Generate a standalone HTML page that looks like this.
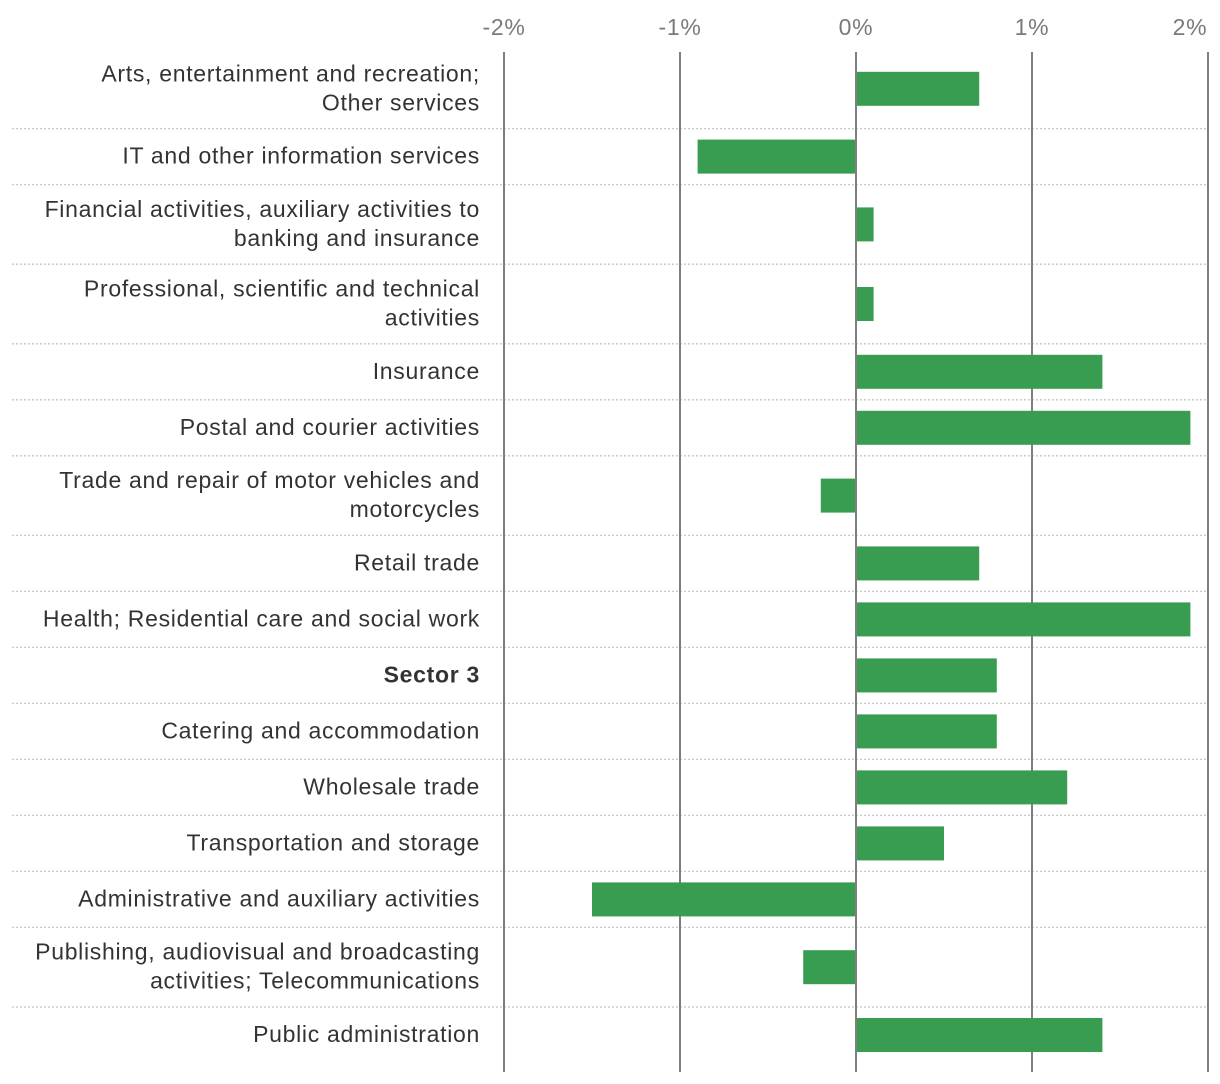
<!DOCTYPE html>
<html><head><meta charset="utf-8"><style>
html,body{margin:0;padding:0;background:#fff;width:1220px;height:1084px;overflow:hidden}
svg text{font-family:"Liberation Sans",sans-serif;letter-spacing:0.7px}
</style></head><body>
<svg id="chart" width="1220" height="1084" xmlns="http://www.w3.org/2000/svg"></svg>
<script>
const categories=[["Arts, entertainment and recreation;","Other services"],["IT and other information services"],["Financial activities, auxiliary activities to","banking and insurance"],["Professional, scientific and technical","activities"],["Insurance"],["Postal and courier activities"],["Trade and repair of motor vehicles and","motorcycles"],["Retail trade"],["Health; Residential care and social work"],["Sector 3"],["Catering and accommodation"],["Wholesale trade"],["Transportation and storage"],["Administrative and auxiliary activities"],["Publishing, audiovisual and broadcasting","activities; Telecommunications"],["Public administration"]];
const values=[0.7,-0.9,0.1,0.1,1.4,1.9,-0.2,0.7,1.9,0.8,0.8,1.2,0.5,-1.5,-0.3,1.4];
const ticks=[-2,-1,0,1,2];
const tickLabels=["-2%","-1%","0%","1%","2%"];
const NS="http://www.w3.org/2000/svg";
const svg=document.getElementById('chart');
const x=v=>856+v*176;
function el(t,a,p){const e=document.createElementNS(NS,t);for(const k in a)e.setAttribute(k,a[k]);(p||svg).appendChild(e);return e;}
let y=49;
const rows=[];
categories.forEach((c,i)=>{const h=c.length>1?79.6:56;rows.push({top:y,h});y+=h;});
// separators
rows.forEach((r,i)=>{if(i<rows.length-1){const s=el('line',{x1:12,x2:1208,y1:r.top+r.h,y2:r.top+r.h,stroke:'#c8c8c8','stroke-width':1.3,'stroke-dasharray':'2 2'});

}});
// gridlines + ticks
ticks.forEach((tk,i)=>{const g=el('line',{x1:x(tk),x2:x(tk),y1:52,y2:1072,stroke:'#7f7f7f','stroke-width':2});


const t=el('text',{x:Math.min(x(tk),1190),y:35,'text-anchor':'middle','font-size':23,fill:'#7a7a7a'});


t.textContent=tickLabels[i];});
// bars + labels
rows.forEach((r,i)=>{const v=values[i];const cy=r.top+r.h/2;
const b=el('rect',{x:Math.min(x(0)+1,x(v)),y:cy-17,width:Math.abs(x(v)-x(0))-1,height:34,fill:'#389d50'});


const t=el('text',{x:480,'text-anchor':'end','font-size':23,fill:'#333','font-weight':categories[i][0]==='Sector 3'?'bold':'normal'});


const lines=categories[i];const y0=cy+7-(lines.length-1)*14.5;
lines.forEach((l,j)=>{const ts=el('tspan',{x:480,y:y0+j*29},t);ts.textContent=l;});
});
</script>
</body></html>
